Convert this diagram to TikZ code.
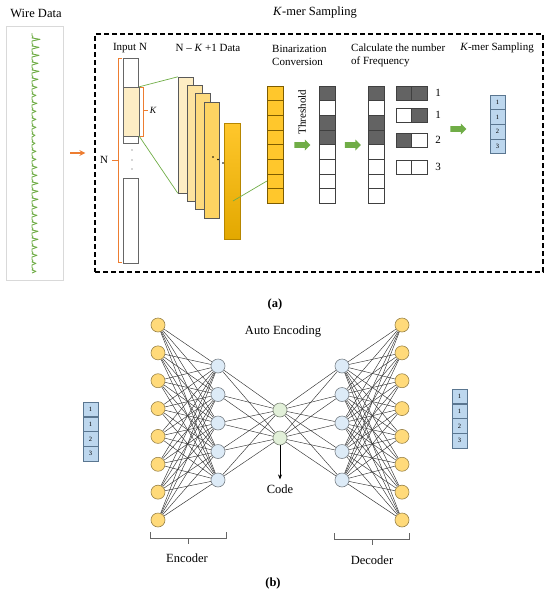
\documentclass[tikz,border=0pt]{standalone}
\usepackage{fontspec}
\setmainfont{Liberation Serif}
\usetikzlibrary{shapes.arrows,positioning,backgrounds,arrows.meta}

\definecolor{wavegreen}{HTML}{70AD47}
\definecolor{lineorange}{HTML}{ED7D31}
\definecolor{slabA}{HTML}{FDEDC4}
\definecolor{slabB}{HTML}{FDE3A0}
\definecolor{slabC}{HTML}{FDDA7E}
\definecolor{slabD}{HTML}{FDD362}
\definecolor{goldtop}{HTML}{FFC72C}
\definecolor{goldbot}{HTML}{E3A800}
\definecolor{darkcell}{HTML}{636363}
\definecolor{bluecell}{HTML}{BDD7EE}
\definecolor{blueedge}{HTML}{5A7690}
\definecolor{nodeyellow}{HTML}{FFDA7A}
\definecolor{nodeblue}{HTML}{DDEBF7}
\definecolor{nodegreen}{HTML}{E2F0D9}

\begin{document}
\begin{tikzpicture}[x=1pt,y=-1pt,
                label/.style={
                    font=\fontsize{11}{13}\selectfont,
                    inner sep=0pt
                },
                biglabel/.style={
                    font=\fontsize{12.5}{14}\selectfont,
                    inner sep=0pt
                },
                wave/.style={
                    draw=wavegreen,
                    line width=0.9pt,
                    line join=round
                },
                slab/.style={
                    draw=gray!70!black,
                    rectangle,
                    minimum width=15pt,
                    minimum height=116pt,
                    inner sep=0pt
                },
                ycell/.style={
                    draw=black!45!goldbot,
                    fill=goldtop,
                    rectangle,
                    minimum width=16pt,
                    minimum height=14.625pt,
                    inner sep=0pt
                },
                bcell/.style={
                    draw=black!75,
                    fill=white,
                    rectangle,
                    minimum width=16pt,
                    minimum height=14.625pt,
                    inner sep=0pt
                },
                pcell/.style={
                    draw=black!75,
                    fill=white,
                    rectangle,
                    minimum width=15.5pt,
                    minimum height=14pt,
                    inner sep=0pt
                },
                kcell/.style={
                    draw=blueedge,
                    fill=bluecell,
                    rectangle,
                    minimum width=15pt,
                    minimum height=14.6pt,
                    inner sep=0pt,
                    font=\fontsize{6.5}{7}\selectfont
                },
                greenarrow/.style={
                    single arrow,
                    fill=wavegreen,
                    minimum height=16pt,
                    inner sep=2.7pt,
                    single arrow head extend=2.6pt
                },
                neuron/.style={
                    circle,
                    minimum size=14pt,
                    inner sep=0pt,
                    line width=0.6pt
                },
                inneuron/.style={neuron, draw=nodeyellow!60!black, fill=nodeyellow},
                hidneuron/.style={neuron, draw=nodeblue!55!black, fill=nodeblue},
                codeneuron/.style={neuron, draw=nodegreen!55!black, fill=nodegreen},
                link/.style={
                    draw=black!80,
                    line width=0.45pt
                },
                bracket/.style={
                    draw=black!60,
                    line width=0.6pt
                },
                obrace/.style={
                    draw=lineorange,
                    line width=0.9pt
                },
                arrow/.style={
                    ->,
                    thick,
                    >=stealth
                }
            ]
\useasboundingbox (0,0) rectangle (550,592);

\node[biglabel] (wiretitle) at (36,13) {Wire Data};
\node[draw=black!15, minimum width=57pt, minimum height=254pt, inner sep=0pt] (wire) at (34.5,153) {};
\draw[wave] (32,33) \foreach \a in {8,7,7,6,7,6,5,4,5,4,4,4,3,3,4,4,5,5,6,6,6,5,5,5,6,6,5,5,4,4} {
    -- ++(0,2.5) -- ++(1,1.5) -- ++(-1,1) -- ++(\a,1.3) -- ++(-\a,1.7) };

\node[biglabel] (kmertitle) at (315,13) {\textit{K}-mer Sampling};
\node[draw, dash pattern=on 5pt off 3pt, line width=1.3pt, minimum width=448pt, minimum height=238pt, inner sep=0pt] (kmer) at (319,153) {};
\draw[arrow, draw=lineorange, line width=1.6pt, shorten <=7pt, shorten >=9pt] (wire) -- (kmer);

\node[label] (inputlbl) at (130,48) {Input N};
\node[label] (datalbl) at (208,48) {N -- \textit{K} +1 Data};
\node[label, align=left, anchor=west] (binlbl) at (272,55) {Binarization\\Conversion};
\node[label, align=left, anchor=west] (freqlbl) at (351,55) {Calculate the number\\of Frequency};
\node[label] (samplbl) at (497,48) {\textit{K}-mer Sampling};

\node[draw=black!60, fill=white, minimum width=15pt, minimum height=85pt, inner sep=0pt] (inA) at (130.5,100.5) {};
\node[draw=black!60, fill=slabA, minimum width=16pt, minimum height=49pt, inner sep=0pt] (kwin) at (131,111.5) {};
\node[draw=black!60, fill=white, minimum width=15pt, minimum height=85pt, inner sep=0pt] (inB) at (130.5,220.5) {};
\foreach \d in {150,160,169} \fill[black!70] (132,\d) circle (0.7pt);

\draw[obrace] (122,58) -- (118,58) -- (118,262) -- (122,262);
\draw[obrace] (118,160) -- (112,160);
\node[label] (nlbl) at (104,160) {N};
\draw[obrace] (140,87) -- (143.5,87) -- (143.5,136) -- (140,136);
\draw[obrace] (143.5,110) -- (148,110);
\node[label, font=\fontsize{9.5}{10}\selectfont\itshape] (klbl) at (153,110) {K};

\node[slab, fill=slabA] (slab1) at (185.5,135) {};
\node[slab, fill=slabB] (slab2) at (194.5,143.5) {};
\node[slab, fill=slabC] (slab3) at (202.5,151.5) {};
\node[slab, fill=slabD] (slab4) at (211.5,160) {};
\node[slab, draw=goldbot!80!black, top color=goldtop, bottom color=goldbot, minimum width=16pt] (slab5) at (232,181) {};
\foreach \x/\y in {213/157,218/159.5,223/163} \fill (\x,\y) circle (0.8pt);

\draw[wavegreen, line width=0.7pt] (kwin.north east) -- (slab1.north west);
\draw[wavegreen, line width=0.7pt] (kwin.south east) -- (slab1.south west);

\foreach \i in {1,...,8}
    \node[ycell] (y\i) at (275,{86+14.625*(\i-0.5)}) {};
\coordinate (s5pt) at (233,201);
\draw[wavegreen, line width=0.7pt] (s5pt) -- (y7.west);

\node[label, rotate=90] (thrlbl) at (302,112) {Threshold};
\node[greenarrow] (arr1) at (301,145) {};

\foreach \i in {1,...,8} {
    \node[bcell] (a\i) at (327,{86+14.625*(\i-0.5)}) {};
    \node[bcell] (b\i) at (376,{86+14.625*(\i-0.5)}) {};
}
\foreach \i in {1,3,4} {
    \node[bcell, fill=darkcell] at (a\i) {};
    \node[bcell, fill=darkcell] at (b\i) {};
}
\node[greenarrow] (arr2) at (351.5,145) {};

\node[pcell, fill=darkcell] (p1l) at (403.75,93) {};
\node[pcell, fill=darkcell] (p1r) at (419.25,93) {};
\node[pcell] (p2l) at (403.75,115) {};
\node[pcell, fill=darkcell] (p2r) at (419.25,115) {};
\node[pcell, fill=darkcell] (p3l) at (403.75,140) {};
\node[pcell] (p3r) at (419.25,140) {};
\node[pcell] (p4l) at (403.75,167) {};
\node[pcell] (p4r) at (419.25,167) {};
\node[label] (f1) at (438,93) {1};
\node[label] (f2) at (438,115) {1};
\node[label] (f3) at (438,140) {2};
\node[label] (f4) at (438,167) {3};

\node[greenarrow] (arr3) at (457,129) {};
\foreach \v [count=\i] in {1,1,2,3}
    \node[kcell] (k\i) at (497.5,{95+14.6*(\i-0.5)}) {\v};

\node[label, font=\fontsize{12.5}{14}\selectfont\bfseries] (captiona) at (275,304) {(a)};

\node[biglabel] (autolbl) at (283,332) {Auto Encoding};

\foreach \i in {1,...,8} {
    \node[inneuron] (in\i) at (158,{325+27.857*(\i-1)}) {};
    \node[inneuron] (out\i) at (402,{325+27.857*(\i-1)}) {};
}
\foreach \j in {1,...,5} {
    \node[hidneuron] (h\j) at (218,{366+28.5*(\j-1)}) {};
    \node[hidneuron] (g\j) at (342,{366+28.5*(\j-1)}) {};
}
\node[codeneuron] (c1) at (280,410) {};
\node[codeneuron] (c2) at (280,438) {};

\begin{scope}[on background layer]
\foreach \i in {1,...,8}
    \foreach \j in {1,...,5} {
        \draw[link] (in\i) -- (h\j);
        \draw[link] (g\j) -- (out\i);
    }
\foreach \j in {1,...,5}
    \foreach \c in {1,2} {
        \draw[link] (h\j) -- (c\c);
        \draw[link] (c\c) -- (g\j);
    }
\end{scope}

\node[biglabel] (codelbl) at (280,489) {Code};
\draw[-{Stealth[length=5pt,width=4pt]}, line width=0.7pt, shorten >=5pt] (c2) -- (codelbl);

\foreach \v [count=\i] in {1,1,2,3} {
    \node[kcell] (lk\i) at (90.5,{402+14.75*(\i-0.5)}) {\v};
    \node[kcell] (rk\i) at (459.5,{389+14.75*(\i-0.5)}) {\v};
}

\draw[bracket] (150,532) -- (150,538) -- (226,538) -- (226,532);
\draw[bracket] (188,538) -- (188,544);
\node[biglabel] (enclbl) at (187,558) {Encoder};
\draw[bracket] (334,533) -- (334,539) -- (409,539) -- (409,533);
\draw[bracket] (372,539) -- (372,545);
\node[biglabel] (declbl) at (372,560) {Decoder};

\node[label, font=\fontsize{12.5}{14}\selectfont\bfseries] (captionb) at (273,583) {(b)};
\end{tikzpicture}
\end{document}
